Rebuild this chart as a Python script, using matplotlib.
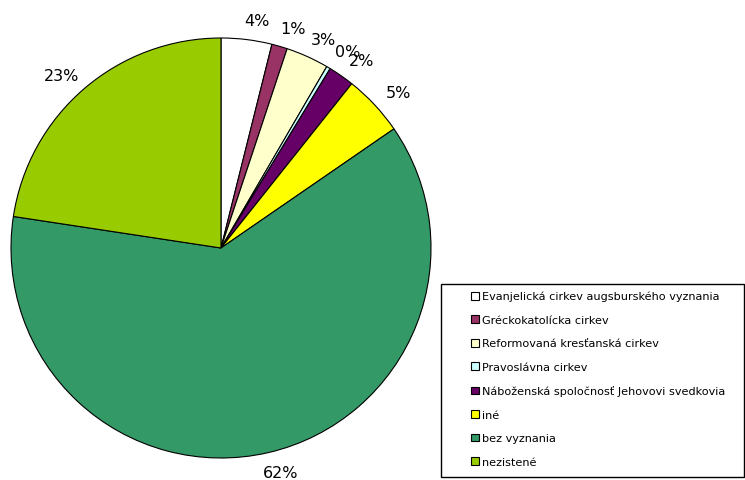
import matplotlib
matplotlib.use("Agg")
import matplotlib.pyplot as plt
from matplotlib.patches import Rectangle
from matplotlib.transforms import offset_copy

# religion shares (%)
categories = [
    "Evanjelická cirkev augsburského vyznania",
    "Gréckokatolícka cirkev",
    "Reformovaná kresťanská cirkev",
    "Pravoslávna cirkev",
    "Náboženská spoločnosť Jehovovi svedkovia",
    "iné",
    "bez vyznania",
    "nezistené",
]
values = [3.9, 1.2, 3.3, 0.3, 2.0, 4.7, 62.0, 22.6]
colors = ["#FFFFFF", "#993366", "#FFFFCC", "#CCFFFF",
          "#660066", "#FFFF00", "#339966", "#99CC00"]

W, H = 745, 481
fig = plt.figure(figsize=(W / 100, H / 100), dpi=100)

# pie centred at (221, 249) px, radius 210 px
cx, cy, r = 221, 249, 210
ax = fig.add_axes([(cx - r) / W, (H - cy - r) / H, 2 * r / W, 2 * r / H])

wedges, texts = ax.pie(
    values, colors=colors, startangle=90, counterclock=False,
    labels=[f"{v:.0f}%" for v in values], labeldistance=1.11,
    wedgeprops=dict(edgecolor="black", linewidth=0.8),
    textprops=dict(fontsize=11.5, color="black"),
)
# nudge labels sideways / towards the middle a little, like Excel does
for t in texts:
    x, y = t.get_position()
    dx = 7 if x >= 0 else -7
    dy = -4 if y >= 0 else 3
    t.set_transform(offset_copy(ax.transData, fig, x=dx, y=dy, units="dots"))
    t.set_ha("center")
    t.set_va("center")
    t.set_clip_on(False)
ax.set_xlim(-1, 1)
ax.set_ylim(-1, 1)
ax.set_aspect("auto")
ax.axis("off")

# legend box drawn separately
fig.patches.append(Rectangle((441 / W, (H - 478) / H), 303 / W, 193 / H,
                             transform=fig.transFigure, fill=False,
                             edgecolor="black", linewidth=1.0))
leg = fig.legend(
    wedges, categories, loc="upper left",
    bbox_to_anchor=(471 / W, (H - 292) / H),
    frameon=False, fontsize=8.1,
    handlelength=0.7, handleheight=0.7, handletextpad=0.3,
    labelspacing=1.2, borderpad=0, borderaxespad=0,
)
for h in leg.legend_handles:
    h.set_edgecolor("black")
    h.set_linewidth(0.8)

fig.savefig("out.png", dpi=100)
